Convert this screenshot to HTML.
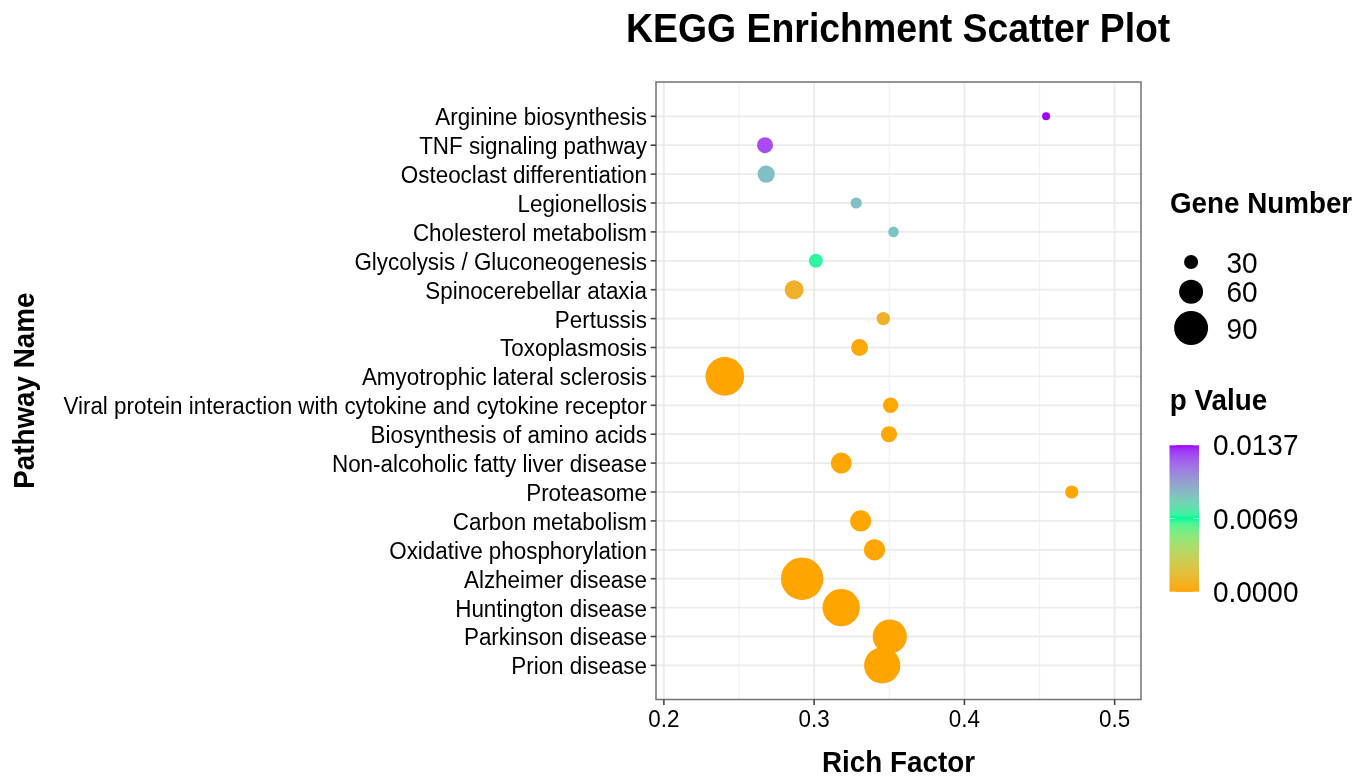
<!DOCTYPE html>
<html><head><meta charset="utf-8"><title>KEGG Enrichment Scatter Plot</title>
<style>html,body{margin:0;padding:0;background:#fff;width:1360px;height:781px;overflow:hidden}
svg text{font-family:"Liberation Sans", sans-serif} svg{will-change:transform}</style></head>
<body>
<svg width="1360" height="781" viewBox="0 0 1360 781" style="position:absolute;left:0;top:0">
<rect x="0" y="0" width="1360" height="781" fill="#ffffff"/>
<line x1="739.02" y1="82.0" x2="739.02" y2="699.5" stroke="#f1f1f1" stroke-width="1.3"/>
<line x1="889.27" y1="82.0" x2="889.27" y2="699.5" stroke="#f1f1f1" stroke-width="1.3"/>
<line x1="1039.53" y1="82.0" x2="1039.53" y2="699.5" stroke="#f1f1f1" stroke-width="1.3"/>
<line x1="663.90" y1="82.0" x2="663.90" y2="699.5" stroke="#ebebeb" stroke-width="1.8"/>
<line x1="814.15" y1="82.0" x2="814.15" y2="699.5" stroke="#ebebeb" stroke-width="1.8"/>
<line x1="964.40" y1="82.0" x2="964.40" y2="699.5" stroke="#ebebeb" stroke-width="1.8"/>
<line x1="1114.65" y1="82.0" x2="1114.65" y2="699.5" stroke="#ebebeb" stroke-width="1.8"/>
<line x1="656.0" y1="116.30" x2="1141.0" y2="116.30" stroke="#ebebeb" stroke-width="1.8"/>
<line x1="656.0" y1="145.20" x2="1141.0" y2="145.20" stroke="#ebebeb" stroke-width="1.8"/>
<line x1="656.0" y1="174.10" x2="1141.0" y2="174.10" stroke="#ebebeb" stroke-width="1.8"/>
<line x1="656.0" y1="203.00" x2="1141.0" y2="203.00" stroke="#ebebeb" stroke-width="1.8"/>
<line x1="656.0" y1="231.90" x2="1141.0" y2="231.90" stroke="#ebebeb" stroke-width="1.8"/>
<line x1="656.0" y1="260.80" x2="1141.0" y2="260.80" stroke="#ebebeb" stroke-width="1.8"/>
<line x1="656.0" y1="289.70" x2="1141.0" y2="289.70" stroke="#ebebeb" stroke-width="1.8"/>
<line x1="656.0" y1="318.60" x2="1141.0" y2="318.60" stroke="#ebebeb" stroke-width="1.8"/>
<line x1="656.0" y1="347.50" x2="1141.0" y2="347.50" stroke="#ebebeb" stroke-width="1.8"/>
<line x1="656.0" y1="376.40" x2="1141.0" y2="376.40" stroke="#ebebeb" stroke-width="1.8"/>
<line x1="656.0" y1="405.30" x2="1141.0" y2="405.30" stroke="#ebebeb" stroke-width="1.8"/>
<line x1="656.0" y1="434.20" x2="1141.0" y2="434.20" stroke="#ebebeb" stroke-width="1.8"/>
<line x1="656.0" y1="463.10" x2="1141.0" y2="463.10" stroke="#ebebeb" stroke-width="1.8"/>
<line x1="656.0" y1="492.00" x2="1141.0" y2="492.00" stroke="#ebebeb" stroke-width="1.8"/>
<line x1="656.0" y1="520.90" x2="1141.0" y2="520.90" stroke="#ebebeb" stroke-width="1.8"/>
<line x1="656.0" y1="549.80" x2="1141.0" y2="549.80" stroke="#ebebeb" stroke-width="1.8"/>
<line x1="656.0" y1="578.70" x2="1141.0" y2="578.70" stroke="#ebebeb" stroke-width="1.8"/>
<line x1="656.0" y1="607.60" x2="1141.0" y2="607.60" stroke="#ebebeb" stroke-width="1.8"/>
<line x1="656.0" y1="636.50" x2="1141.0" y2="636.50" stroke="#ebebeb" stroke-width="1.8"/>
<line x1="656.0" y1="665.40" x2="1141.0" y2="665.40" stroke="#ebebeb" stroke-width="1.8"/>
<circle cx="1046.10" cy="116.30" r="4.00" fill="#a102fd"/>
<circle cx="765.00" cy="145.20" r="8.00" fill="#a84cf0"/>
<circle cx="766.20" cy="174.10" r="8.60" fill="#80bfc5"/>
<circle cx="856.20" cy="203.00" r="5.60" fill="#7ec0c4"/>
<circle cx="893.50" cy="231.90" r="5.30" fill="#7cc6c0"/>
<circle cx="815.80" cy="260.80" r="7.00" fill="#2cf7a0"/>
<circle cx="794.10" cy="289.70" r="9.50" fill="#f0b02a"/>
<circle cx="883.30" cy="318.60" r="6.70" fill="#f0b02a"/>
<circle cx="859.50" cy="347.50" r="8.40" fill="#ffa80a"/>
<circle cx="724.80" cy="376.40" r="19.35" fill="#ffa500"/>
<circle cx="890.60" cy="405.30" r="7.70" fill="#ffa702"/>
<circle cx="889.00" cy="434.20" r="8.06" fill="#ffa702"/>
<circle cx="841.30" cy="463.10" r="10.50" fill="#ffa600"/>
<circle cx="1071.70" cy="492.00" r="6.60" fill="#ffa600"/>
<circle cx="860.70" cy="520.90" r="10.60" fill="#ffa600"/>
<circle cx="874.50" cy="549.80" r="10.60" fill="#ffa600"/>
<circle cx="802.10" cy="578.70" r="21.20" fill="#ffa500"/>
<circle cx="841.20" cy="607.60" r="18.70" fill="#ffa500"/>
<circle cx="889.80" cy="636.50" r="17.10" fill="#ffa500"/>
<circle cx="882.20" cy="665.40" r="18.10" fill="#ffa500"/>
<rect x="656.0" y="82.0" width="485.0" height="617.5" fill="none" stroke="#737373" stroke-width="1.5"/>
<line x1="650.70" y1="116.30" x2="656.0" y2="116.30" stroke="#444" stroke-width="1.6"/>
<text transform="translate(647.00 125.23) scale(1 1.05)" font-size="22.42" text-anchor="end" fill="#000">Arginine biosynthesis</text>
<line x1="650.70" y1="145.20" x2="656.0" y2="145.20" stroke="#444" stroke-width="1.6"/>
<text transform="translate(647.00 154.13) scale(1 1.05)" font-size="22.42" text-anchor="end" fill="#000">TNF signaling pathway</text>
<line x1="650.70" y1="174.10" x2="656.0" y2="174.10" stroke="#444" stroke-width="1.6"/>
<text transform="translate(647.00 183.03) scale(1 1.05)" font-size="22.42" text-anchor="end" fill="#000">Osteoclast differentiation</text>
<line x1="650.70" y1="203.00" x2="656.0" y2="203.00" stroke="#444" stroke-width="1.6"/>
<text transform="translate(647.00 211.93) scale(1 1.05)" font-size="22.42" text-anchor="end" fill="#000">Legionellosis</text>
<line x1="650.70" y1="231.90" x2="656.0" y2="231.90" stroke="#444" stroke-width="1.6"/>
<text transform="translate(647.00 240.83) scale(1 1.05)" font-size="22.42" text-anchor="end" fill="#000">Cholesterol metabolism</text>
<line x1="650.70" y1="260.80" x2="656.0" y2="260.80" stroke="#444" stroke-width="1.6"/>
<text transform="translate(647.00 269.73) scale(1 1.05)" font-size="22.42" text-anchor="end" fill="#000">Glycolysis / Gluconeogenesis</text>
<line x1="650.70" y1="289.70" x2="656.0" y2="289.70" stroke="#444" stroke-width="1.6"/>
<text transform="translate(647.00 298.63) scale(1 1.05)" font-size="22.42" text-anchor="end" fill="#000">Spinocerebellar ataxia</text>
<line x1="650.70" y1="318.60" x2="656.0" y2="318.60" stroke="#444" stroke-width="1.6"/>
<text transform="translate(647.00 327.53) scale(1 1.05)" font-size="22.42" text-anchor="end" fill="#000">Pertussis</text>
<line x1="650.70" y1="347.50" x2="656.0" y2="347.50" stroke="#444" stroke-width="1.6"/>
<text transform="translate(647.00 356.43) scale(1 1.05)" font-size="22.42" text-anchor="end" fill="#000">Toxoplasmosis</text>
<line x1="650.70" y1="376.40" x2="656.0" y2="376.40" stroke="#444" stroke-width="1.6"/>
<text transform="translate(647.00 385.33) scale(1 1.05)" font-size="22.42" text-anchor="end" fill="#000">Amyotrophic lateral sclerosis</text>
<line x1="650.70" y1="405.30" x2="656.0" y2="405.30" stroke="#444" stroke-width="1.6"/>
<text transform="translate(647.00 414.23) scale(1 1.05)" font-size="22.42" text-anchor="end" fill="#000">Viral protein interaction with cytokine and cytokine receptor</text>
<line x1="650.70" y1="434.20" x2="656.0" y2="434.20" stroke="#444" stroke-width="1.6"/>
<text transform="translate(647.00 443.13) scale(1 1.05)" font-size="22.42" text-anchor="end" fill="#000">Biosynthesis of amino acids</text>
<line x1="650.70" y1="463.10" x2="656.0" y2="463.10" stroke="#444" stroke-width="1.6"/>
<text transform="translate(647.00 472.03) scale(1 1.05)" font-size="22.42" text-anchor="end" fill="#000">Non-alcoholic fatty liver disease</text>
<line x1="650.70" y1="492.00" x2="656.0" y2="492.00" stroke="#444" stroke-width="1.6"/>
<text transform="translate(647.00 500.93) scale(1 1.05)" font-size="22.42" text-anchor="end" fill="#000">Proteasome</text>
<line x1="650.70" y1="520.90" x2="656.0" y2="520.90" stroke="#444" stroke-width="1.6"/>
<text transform="translate(647.00 529.83) scale(1 1.05)" font-size="22.42" text-anchor="end" fill="#000">Carbon metabolism</text>
<line x1="650.70" y1="549.80" x2="656.0" y2="549.80" stroke="#444" stroke-width="1.6"/>
<text transform="translate(647.00 558.73) scale(1 1.05)" font-size="22.42" text-anchor="end" fill="#000">Oxidative phosphorylation</text>
<line x1="650.70" y1="578.70" x2="656.0" y2="578.70" stroke="#444" stroke-width="1.6"/>
<text transform="translate(647.00 587.63) scale(1 1.05)" font-size="22.42" text-anchor="end" fill="#000">Alzheimer disease</text>
<line x1="650.70" y1="607.60" x2="656.0" y2="607.60" stroke="#444" stroke-width="1.6"/>
<text transform="translate(647.00 616.53) scale(1 1.05)" font-size="22.42" text-anchor="end" fill="#000">Huntington disease</text>
<line x1="650.70" y1="636.50" x2="656.0" y2="636.50" stroke="#444" stroke-width="1.6"/>
<text transform="translate(647.00 645.43) scale(1 1.05)" font-size="22.42" text-anchor="end" fill="#000">Parkinson disease</text>
<line x1="650.70" y1="665.40" x2="656.0" y2="665.40" stroke="#444" stroke-width="1.6"/>
<text transform="translate(647.00 674.33) scale(1 1.05)" font-size="22.42" text-anchor="end" fill="#000">Prion disease</text>
<line x1="663.90" y1="699.5" x2="663.90" y2="705.00" stroke="#444" stroke-width="1.6"/>
<text transform="translate(663.90 727.15) scale(1 1.05)" font-size="22.42" text-anchor="middle" fill="#000">0.2</text>
<line x1="814.15" y1="699.5" x2="814.15" y2="705.00" stroke="#444" stroke-width="1.6"/>
<text transform="translate(814.15 727.15) scale(1 1.05)" font-size="22.42" text-anchor="middle" fill="#000">0.3</text>
<line x1="964.40" y1="699.5" x2="964.40" y2="705.00" stroke="#444" stroke-width="1.6"/>
<text transform="translate(964.40 727.15) scale(1 1.05)" font-size="22.42" text-anchor="middle" fill="#000">0.4</text>
<line x1="1114.65" y1="699.5" x2="1114.65" y2="705.00" stroke="#444" stroke-width="1.6"/>
<text transform="translate(1114.65 727.15) scale(1 1.05)" font-size="22.42" text-anchor="middle" fill="#000">0.5</text>
<text transform="translate(898.50 772.10) scale(1 1.05)" font-size="27.8" font-weight="bold" text-anchor="middle" fill="#000">Rich Factor</text>
<text transform="translate(34.30 390.75) rotate(-90) scale(1 1.05)" font-size="27.8" font-weight="bold" text-anchor="middle" fill="#000">Pathway Name</text>
<text transform="translate(898.20 41.50) scale(1 1.08)" font-size="37.4" font-weight="bold" text-anchor="middle" fill="#000">KEGG Enrichment Scatter Plot</text>
<text transform="translate(1169.90 213.00) scale(1 1.05)" font-size="27.8" font-weight="bold" fill="#000">Gene Number</text>
<circle cx="1191.1" cy="262.0" r="7.05" fill="#000"/>
<text transform="translate(1226.50 272.52) scale(1 1.05)" font-size="28.0" fill="#000">30</text>
<circle cx="1191.1" cy="291.7" r="12.0" fill="#000"/>
<text transform="translate(1226.50 302.22) scale(1 1.05)" font-size="28.0" fill="#000">60</text>
<circle cx="1191.1" cy="328.0" r="17.0" fill="#000"/>
<text transform="translate(1226.50 338.52) scale(1 1.05)" font-size="28.0" fill="#000">90</text>
<text transform="translate(1169.80 409.90) scale(1 1.05)" font-size="27.8" font-weight="bold" fill="#000">p Value</text>
<defs><linearGradient id="cg" x1="0" y1="1" x2="0" y2="0"><stop offset="0.000" stop-color="#ffa500"/><stop offset="0.025" stop-color="#faaa14"/><stop offset="0.050" stop-color="#f4af20"/><stop offset="0.075" stop-color="#efb42a"/><stop offset="0.100" stop-color="#e9b932"/><stop offset="0.125" stop-color="#e3be3a"/><stop offset="0.150" stop-color="#ddc241"/><stop offset="0.175" stop-color="#d6c748"/><stop offset="0.200" stop-color="#cfcb4f"/><stop offset="0.225" stop-color="#c8cf56"/><stop offset="0.250" stop-color="#c0d35c"/><stop offset="0.275" stop-color="#b7d862"/><stop offset="0.300" stop-color="#aedc69"/><stop offset="0.325" stop-color="#a4e06f"/><stop offset="0.350" stop-color="#9ae375"/><stop offset="0.375" stop-color="#8ee77b"/><stop offset="0.400" stop-color="#80eb82"/><stop offset="0.425" stop-color="#71ef88"/><stop offset="0.450" stop-color="#5df38e"/><stop offset="0.475" stop-color="#42f694"/><stop offset="0.500" stop-color="#00fa9a"/><stop offset="0.525" stop-color="#3af1a0"/><stop offset="0.550" stop-color="#51e8a6"/><stop offset="0.575" stop-color="#60dfac"/><stop offset="0.600" stop-color="#6dd7b2"/><stop offset="0.625" stop-color="#76ceb7"/><stop offset="0.650" stop-color="#7fc4bd"/><stop offset="0.675" stop-color="#85bbc2"/><stop offset="0.700" stop-color="#8bb2c7"/><stop offset="0.725" stop-color="#90a8cc"/><stop offset="0.750" stop-color="#949fd1"/><stop offset="0.775" stop-color="#9895d6"/><stop offset="0.800" stop-color="#9b8bdb"/><stop offset="0.825" stop-color="#9d80df"/><stop offset="0.850" stop-color="#9f76e4"/><stop offset="0.875" stop-color="#a06ae9"/><stop offset="0.900" stop-color="#a15eed"/><stop offset="0.925" stop-color="#a150f2"/><stop offset="0.950" stop-color="#a140f6"/><stop offset="0.975" stop-color="#a12bfb"/><stop offset="1.000" stop-color="#a000ff"/></linearGradient></defs>
<rect x="1169.5" y="445.1" width="29.5" height="146.8" fill="url(#cg)"/>
<line x1="1169.5" y1="591.90" x2="1175.40" y2="591.90" stroke="#fff" stroke-width="0.9" stroke-opacity="0.6"/>
<line x1="1193.10" y1="591.90" x2="1199.0" y2="591.90" stroke="#fff" stroke-width="0.9" stroke-opacity="0.6"/>
<line x1="1169.5" y1="518.50" x2="1175.40" y2="518.50" stroke="#fff" stroke-width="0.9" stroke-opacity="0.6"/>
<line x1="1193.10" y1="518.50" x2="1199.0" y2="518.50" stroke="#fff" stroke-width="0.9" stroke-opacity="0.6"/>
<line x1="1169.5" y1="445.10" x2="1175.40" y2="445.10" stroke="#fff" stroke-width="0.9" stroke-opacity="0.6"/>
<line x1="1193.10" y1="445.10" x2="1199.0" y2="445.10" stroke="#fff" stroke-width="0.9" stroke-opacity="0.6"/>
<text transform="translate(1212.90 455.12) scale(1 1.05)" font-size="28.0" fill="#000">0.0137</text>
<text transform="translate(1212.90 528.52) scale(1 1.05)" font-size="28.0" fill="#000">0.0069</text>
<text transform="translate(1212.90 601.92) scale(1 1.05)" font-size="28.0" fill="#000">0.0000</text>
</svg>
</body></html>
